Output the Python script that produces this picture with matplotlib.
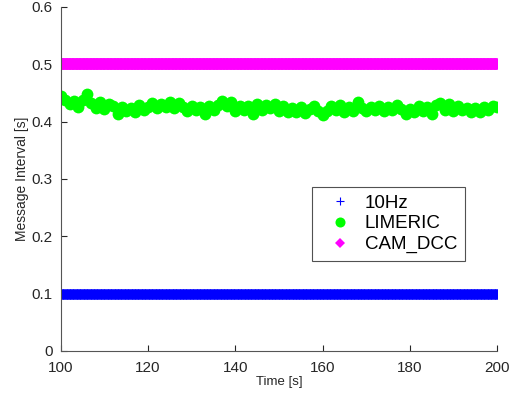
import numpy as np
import matplotlib
matplotlib.use('Agg')
import matplotlib.pyplot as plt

# time axis of the simulation window
t_start = 100
t_end = 200

# constant message intervals
interval_10hz = 0.1
interval_cam_dcc = 0.5

limeric_t = np.arange(100, 201, 1)
limeric_interval = [
    0.445, 0.437, 0.430, 0.436, 0.426, 0.438, 0.448, 0.432, 0.424, 0.435,
    0.422, 0.431, 0.427, 0.414, 0.426, 0.418, 0.424, 0.417, 0.429, 0.420,
    0.426, 0.433, 0.424, 0.431, 0.426, 0.434, 0.424, 0.432, 0.425, 0.418,
    0.427, 0.420, 0.426, 0.414, 0.428, 0.421, 0.429, 0.436, 0.427, 0.434,
    0.419, 0.427, 0.421, 0.428, 0.413, 0.430, 0.421, 0.429, 0.423, 0.431,
    0.419, 0.427, 0.416, 0.423, 0.417, 0.425, 0.415, 0.422, 0.428, 0.418,
    0.412, 0.419, 0.428, 0.420, 0.429, 0.417, 0.425, 0.419, 0.434, 0.424,
    0.418, 0.426, 0.420, 0.428, 0.419, 0.426, 0.421, 0.429, 0.422, 0.414,
    0.422, 0.416, 0.427, 0.419, 0.426, 0.414, 0.429, 0.432, 0.421, 0.431,
    0.418, 0.427, 0.420, 0.424, 0.416, 0.423, 0.417, 0.426, 0.420, 0.427,
    0.425,
]

x_ticks = [100, 120, 140, 160, 180, 200]
y_ticks = [0, 0.1, 0.2, 0.3, 0.4, 0.5, 0.6]

plt.rcParams['font.family'] = ['Liberation Sans', 'DejaVu Sans']

fig = plt.figure(figsize=(5.2, 4.0), dpi=100)
ax = fig.add_axes([0.117, 0.1225, 0.839, 0.86])

# 10 Hz messages: one marker every 0.1 s
t_10hz = np.arange(t_start, t_end + 0.05, 0.1)
ax.plot(t_10hz, np.full(len(t_10hz), interval_10hz), '+', color='#0000ff',
        markersize=7, markeredgewidth=0.8, label='10Hz')

ax.plot(limeric_t, limeric_interval, 'o', color='#00ff00',
        markersize=8.5, markeredgewidth=0, label='LIMERIC')

t_dcc = np.arange(t_start, t_end + 0.05, 0.1)
ax.plot(t_dcc, np.full(len(t_dcc), interval_cam_dcc), 'D', color='#ff00ff',
        markersize=6.5, markeredgewidth=0, label='CAM_DCC')

ax.set_xlim(t_start, t_end)
ax.set_ylim(0, 0.6)
ax.set_xticks(x_ticks)
ax.set_yticks(y_ticks)
ax.set_yticklabels(['0', '0.1', '0.2', '0.3', '0.4', '0.5', '0.6'])

for side in ['top', 'right']:
    ax.spines[side].set_visible(False)
for side in ['left', 'bottom']:
    ax.spines[side].set_color('#555555')
    ax.spines[side].set_linewidth(0.8)
ax.tick_params(direction='in', length=4, width=0.8, color='#262626',
               labelsize=11, labelcolor='#262626')
ax.tick_params(axis='x', pad=7)
ax.tick_params(axis='y', pad=6)

ax.set_xlabel('Time [s]', fontsize=9.5, color='#262626', labelpad=1)
ax.set_ylabel('Message Interval [s]', fontsize=10, color='#262626', labelpad=2)

leg = ax.legend(loc='upper left', bbox_to_anchor=(0.576, 0.477), borderaxespad=0,
                fontsize=13.5, frameon=True, fancybox=False, borderpad=0.4,
                handlelength=2.2, handletextpad=0.2, labelspacing=0.2,
                markerscale=0.85)
leg.get_frame().set_edgecolor('#262626')
leg.get_frame().set_linewidth(0.8)

fig.savefig('out.png', dpi=100)
